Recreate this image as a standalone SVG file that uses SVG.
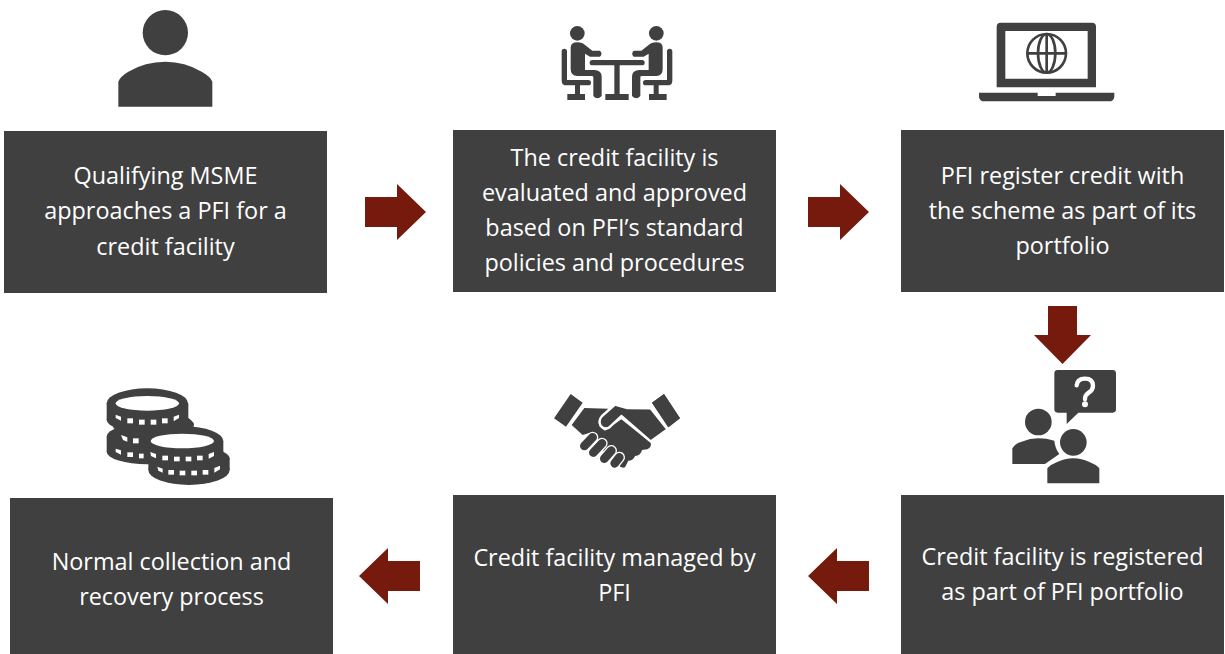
<svg xmlns="http://www.w3.org/2000/svg" width="1225" height="654" viewBox="0 0 1225 654">
<style>
.box{fill:#404040}
.t{font-family:"Open Sans","Noto Sans",sans-serif;font-size:23.4px;fill:#fff;text-anchor:middle}
.ic{fill:#404040}
.ln{fill:none;stroke:#404040;stroke-linecap:round;stroke-linejoin:round}
.wl{fill:none;stroke:#fff;stroke-linecap:round;stroke-linejoin:round}
.ar{fill:#751a0c}
</style>
<rect width="1225" height="654" fill="#fff"/>
<g id="connectors">
<polygon class="ar" points="365,197 397,197 397,184 426,212 397,240 397,227 365,227"/>
<polygon class="ar" points="808,197 840,197 840,184 869,212 840,240 840,227 808,227"/>
<polygon class="ar" points="1048,306 1077,306 1077,335 1091,335 1062.5,364 1034,335 1048,335"/>
<polygon class="ar" points="869,561 837,561 837,548 808,576 837,604 837,591 869,591"/>
<polygon class="ar" points="420,561 388,561 388,548 359,576 388,604 388,591 420,591"/>
</g>
<g id="node1">
<rect class="box" x="4" y="131" width="323" height="162"/>
<text class="t" x="165.500" y="184">Qualifying MSME</text>
<text class="t" x="165.500" y="219">approaches a PFI for a</text>
<text class="t" x="165.500" y="255">credit facility</text>
<g id="icon-person" transform="translate(90,0) scale(.33333)">
<circle class="ic" cx="226" cy="98" r="68"/>
<path class="ic" d="M85 320V245Q90 230 115 215Q165 185 226 185Q285 185 335 215Q362 230 367 245V320Z"/>
</g>
</g>
<g id="node2">
<rect class="box" x="453" y="130" width="323" height="162"/>
<text class="t" x="614.500" y="166">The credit facility is</text>
<text class="t" x="614.500" y="201">evaluated and approved</text>
<text class="t" x="614.500" y="236">based on PFI’s standard</text>
<text class="t" x="614.500" y="271">policies and procedures</text>
<g id="icon-meeting" transform="translate(540,10) scale(.33333)">
<circle class="ic" cx="112" cy="70" r="22"/>
<circle class="ic" cx="349" cy="70" r="22"/>
<path class="ic" d="M92 112Q93 97 112 97Q128 97 136 106L157 122H180Q189 130 180 140H150L135 131V180H165Q185 182 185 200V258Q172 272 160 258V202Q160 198 155 198H112Q92 198 92 178Z"/>
<path class="ic" d="M368 112Q367 97 349 97Q333 97 325 106L304 122H281Q272 130 281 140H311L326 131V180H296Q276 182 276 200V258Q289 272 301 258V202Q301 198 306 198H349Q368 198 368 178Z"/>
<path class="ln" stroke-width="16" d="M73 124V212Q73 218 80 218H145"/>
<path class="ln" stroke-width="16" d="M389 124V212Q389 218 382 218H317"/>
<rect class="ic" x="105" y="222" width="15" height="32"/>
<rect class="ic" x="341" y="222" width="15" height="32"/>
<rect class="ic" x="82" y="252" width="53" height="18"/>
<rect class="ic" x="327" y="252" width="53" height="18"/>
<rect class="ic" x="149" y="150" width="165" height="16" rx="8"/>
<rect class="ic" x="223" y="160" width="16" height="95"/>
<rect class="ic" x="196" y="252" width="70" height="18"/>
</g>
</g>
<g id="node3">
<rect class="box" x="901" y="130" width="323" height="162"/>
<text class="t" x="1062.500" y="184">PFI register credit with</text>
<text class="t" x="1062.500" y="219">the scheme as part of its</text>
<text class="t" x="1062.500" y="254">portfolio</text>
<g id="icon-laptop" transform="translate(965,10) scale(.33333)">
<path class="ic" fill-rule="evenodd" d="M95 232V50Q95 38 107 38H381Q393 38 393 50V232ZM121 63V206H368V63Z"/>
<path class="ic" d="M42 248H218V258H272V248H448V260Q446 274 432 274H58Q44 274 42 260Z"/>
<g fill="none" stroke="#404040" stroke-width="8">
<circle cx="245" cy="130" r="58"/>
<ellipse cx="245" cy="130" rx="26" ry="58"/>
<path d="M245 72V188M187 130H303"/>
</g>
</g>
</g>
<g id="node4">
<rect class="box" x="901" y="495" width="323" height="159"/>
<text class="t" x="1062.500" y="565">Credit facility is registered</text>
<text class="t" x="1062.500" y="600">as part of PFI portfolio</text>
<g id="icon-question" transform="translate(990,300) scale(.33333)">
<path class="ic" d="M203 210H368Q378 210 378 220V328Q378 338 368 338H265L230 372V338H203Q193 338 193 328V220Q193 210 203 210Z"/>
<path class="wl" stroke-width="13" d="M260 256Q262 236 285 236Q309 236 309 258Q309 270 296 278Q285 285 285 298"/>
<circle cx="285" cy="313" r="9" fill="#fff"/>
<circle class="ic" cx="145" cy="366" r="40"/>
<path class="ic" d="M67 492V445Q75 430 95 425Q120 415 145 415Q170 415 193 422Q195 445 208 462L165 492Z"/>
<circle class="ic" cx="250" cy="427" r="40"/>
<path class="ic" d="M172 550V505Q180 495 200 487Q225 475 250 475Q275 475 300 487Q320 495 328 505V550Z"/>
</g>
</g>
<g id="node5">
<rect class="box" x="453" y="495" width="323" height="159"/>
<text class="t" x="614.500" y="566">Credit facility managed by</text>
<text class="t" x="614.500" y="601">PFI</text>
<g id="icon-handshake" transform="translate(540,380) scale(.33333)">
<polygon class="ic" points="92,42 128,68 78,140 42,115"/>
<polygon class="ic" points="372,42 336,68 385,142 420,115"/>
<path class="ic" d="M133 84L205 86L178 118Q170 140 195 152L244 118L332 188Q336 200 322 208L306 210Q303 226 285 228Q280 242 265 242L255 262Q245 266 235 255L190 212L150 158L128 165L95 135Z"/>
<g fill="none" stroke-linecap="round">
<g stroke="#fff" stroke-width="34">
<path d="M133 198L158 172M160 218L186 190M193 236L214 212M224 250L238 232"/>
</g>
<g stroke="#404040" stroke-width="26">
<path d="M133 198L158 172"/><path d="M160 218L186 190"/><path d="M193 236L214 212"/><path d="M224 250L238 232"/>
</g>
</g>
<path class="ic" stroke="#fff" stroke-width="7" stroke-linejoin="round" d="M186 108L225 74L262 84L332 85L382 148L332 184L244 108L207 143Q192 150 182 137Q174 122 186 108Z"/>
<polygon class="ic" points="372,42 336,68 385,142 420,115"/>
</g>
</g>
<g id="node6">
<rect class="box" x="10" y="498" width="323" height="156"/>
<text class="t" x="171.500" y="570">Normal collection and</text>
<text class="t" x="171.500" y="605">recovery process</text>
<g id="icon-coins" transform="translate(95,380) scale(.33333)">
<g class="ic">
<ellipse cx="157" cy="70" rx="122" ry="45"/>
<rect x="35" y="70" width="245" height="50"/>
<ellipse cx="157" cy="120" rx="122" ry="38"/>
<ellipse cx="175" cy="135" rx="122" ry="40"/>
<ellipse cx="157" cy="170" rx="122" ry="40"/>
<rect x="35" y="170" width="130" height="45"/>
<ellipse cx="157" cy="215" rx="122" ry="38"/>
<ellipse cx="267" cy="183" rx="118" ry="44"/>
<rect x="149" y="183" width="236" height="40"/>
<ellipse cx="267" cy="223" rx="118" ry="38"/>
<ellipse cx="282" cy="235" rx="122" ry="36"/>
<rect x="160" y="235" width="244" height="35"/>
<ellipse cx="282" cy="270" rx="122" ry="45"/>
</g>
<ellipse cx="157" cy="70" rx="95" ry="22" fill="#fff"/>
<ellipse cx="262" cy="183" rx="95" ry="22" fill="#fff"/>
<g fill="#fff">
<path d="M62 104L78 110V122L62 114Z"/><rect x="97" y="115" width="17" height="15"/><rect x="132" y="119" width="17" height="15"/><rect x="167" y="119" width="17" height="15"/><rect x="201" y="115" width="17" height="15"/><path d="M236 110L252 104V114L236 124Z"/>
<path d="M78 165L97 172V185L84 180Z"/><rect x="114" y="175" width="17" height="15"/>
<path d="M62 206L78 211V224L62 216Z"/><rect x="97" y="217" width="17" height="14"/><path d="M132 221H146V235H132Z"/>
<path d="M166 216L183 222V235L168 228Z"/><rect x="202" y="227" width="17" height="14"/><rect x="237" y="230" width="17" height="14"/><rect x="272" y="230" width="17" height="14"/><rect x="306" y="227" width="17" height="14"/><path d="M341 222L357 216V228L341 236Z"/>
<path d="M187 260L203 266V278L190 272Z"/><rect x="220" y="270" width="17" height="14"/><rect x="254" y="272" width="17" height="14"/><rect x="289" y="272" width="17" height="14"/><rect x="323" y="270" width="17" height="14"/><path d="M358 264L375 257V268L358 278Z"/>
</g>
</g>
</g>
</svg>
